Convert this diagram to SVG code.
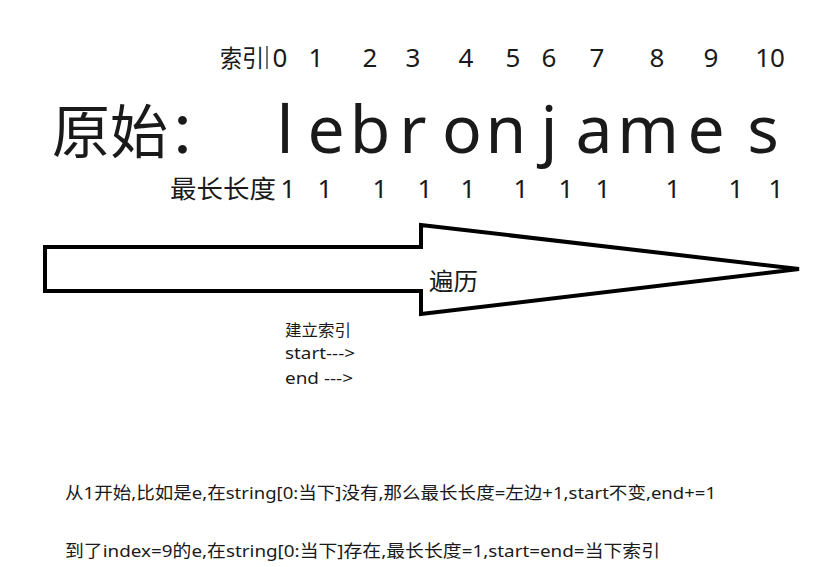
<svg xmlns="http://www.w3.org/2000/svg" width="835" height="567" viewBox="0 0 835 567">
<style>
text{font-family:"Noto Sans","Noto Sans CJK SC",sans-serif;fill:#1a1a1a}
.idx{font-size:26px;text-anchor:middle}
.big{font-size:66px;text-anchor:middle}
.len{font-size:26px;text-anchor:middle}
.sm{font-size:16px}
.note{font-size:17px}
.arrow{fill:#fff;stroke:#000;stroke-width:4;stroke-linejoin:miter}
</style>
<rect width="835" height="567" fill="#fff"/>
<g id="index-row">
<text x="220" y="67" style="font-size:24px" textLength="44" lengthAdjust="spacingAndGlyphs">索引</text>
<line x1="267" y1="46" x2="267" y2="69" stroke="#1a1a1a" stroke-width="1.2"/>
<text class="idx" x="280" y="67">0</text>
<text class="idx" x="316" y="67">1</text>
<text class="idx" x="370" y="67">2</text>
<text class="idx" x="413" y="67">3</text>
<text class="idx" x="466" y="67">4</text>
<text class="idx" x="513" y="67">5</text>
<text class="idx" x="549" y="67">6</text>
<text class="idx" x="597" y="67">7</text>
<text class="idx" x="657" y="67">8</text>
<text class="idx" x="711" y="67">9</text>
<text class="idx" x="770" y="67">10</text>
</g>
<g id="original-row">
<text x="52" y="153" style="font-size:58px">原始：</text>
<text class="big" x="285" y="153">l</text>
<text class="big" x="326" y="153">e</text>
<text class="big" x="370" y="153">b</text>
<text class="big" x="413" y="153">r</text>
<text class="big" x="462" y="153">o</text>
<text class="big" x="506" y="153">n</text>
<text class="big" x="549" y="153">j</text>
<text class="big" x="594" y="153">a</text>
<text class="big" x="648" y="153">m</text>
<text class="big" x="706" y="153">e</text>
<text class="big" x="763" y="153">s</text>
</g>
<g id="length-row">
<text x="170" y="198" style="font-size:25px" textLength="106" lengthAdjust="spacingAndGlyphs">最长长度</text>
<text class="len" x="288" y="198">1</text>
<text class="len" x="325" y="198">1</text>
<text class="len" x="380" y="198">1</text>
<text class="len" x="425" y="198">1</text>
<text class="len" x="468" y="198">1</text>
<text class="len" x="521" y="198">1</text>
<text class="len" x="566" y="198">1</text>
<text class="len" x="603" y="198">1</text>
<text class="len" x="673" y="198">1</text>
<text class="len" x="736" y="198">1</text>
<text class="len" x="776" y="198">1</text>
</g>
<g id="traverse-arrow">
<polygon class="arrow" points="45,247 421,247 421,225 799,269 421,314 421,291 45,291"/>
<text x="429" y="290" style="font-size:24px" textLength="49" lengthAdjust="spacingAndGlyphs">遍历</text>
</g>
<g id="index-note">
<text class="sm" x="285" y="336" textLength="66" lengthAdjust="spacingAndGlyphs">建立索引</text>
<text class="sm" x="285" y="359" textLength="70" lengthAdjust="spacingAndGlyphs">start---&gt;</text>
<text class="sm" x="285" y="384" textLength="68" lengthAdjust="spacingAndGlyphs">end ---&gt;</text>
</g>
<g id="notes">
<text class="note" x="65" y="499" textLength="651" lengthAdjust="spacingAndGlyphs">从1开始,比如是e,在string[0:当下]没有,那么最长长度=左边+1,start不变,end+=1</text>
<text class="note" x="65" y="557" textLength="595" lengthAdjust="spacingAndGlyphs">到了index=9的e,在string[0:当下]存在,最长长度=1,start=end=当下索引</text>
</g>
</svg>
